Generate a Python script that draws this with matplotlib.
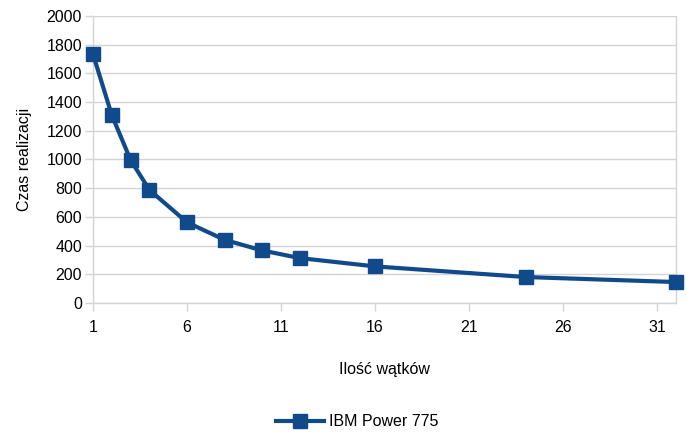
import matplotlib
matplotlib.use("Agg")
import matplotlib.pyplot as plt
from matplotlib.ticker import FixedLocator

threads = [1, 2, 3, 4, 6, 8, 10, 12, 16, 24, 32]
times = [1734, 1309, 996, 788, 562, 440, 366, 313, 255, 181, 146]
series_name = "IBM Power 775"
x_ticks = [1, 6, 11, 16, 21, 26, 31]
y_ticks = list(range(0, 2001, 200))

plt.rcParams['font.family'] = ['Liberation Sans', 'DejaVu Sans']

fig = plt.figure(figsize=(6.86, 4.32), dpi=100)
W, H = 686, 432
left, right, top, bottom = 93, 676, 16, 303
ax = fig.add_axes([left / W, 1 - bottom / H, (right - left) / W, (bottom - top) / H])

color = '#114a8b'
grid_c = '#d4d4d4'
ax.plot(threads, times, color=color, lw=3, marker='s', ms=9.5,
        markeredgecolor=color, label=series_name, clip_on=False, zorder=3)

ax.set_xlim(1, 32)
ax.set_ylim(0, 2000)
ax.xaxis.set_major_locator(FixedLocator(x_ticks))
ax.yaxis.set_major_locator(FixedLocator(y_ticks))
ax.grid(axis='y', color=grid_c, lw=1)
ax.set_axisbelow(True)
for s in ['left', 'bottom', 'right']:
    ax.spines[s].set_color(grid_c)
    ax.spines[s].set_linewidth(1)
ax.spines['top'].set_visible(False)
ax.tick_params(axis='both', colors=grid_c, length=6, width=1, labelsize=11.5, labelcolor='black')
ax.tick_params(axis='x', pad=6)
ax.tick_params(axis='y', pad=2)

ax.set_ylabel("Czas realizacji", fontsize=11.5, labelpad=10)
ax.set_xlabel("Ilość wątków", fontsize=11.5, labelpad=20)

leg = fig.legend(loc='center', bbox_to_anchor=(357 / W, 1 - 422 / H), frameon=False,
                 fontsize=11.5, handlelength=3, handletextpad=0.3)

fig.savefig("out.png", dpi=100)
